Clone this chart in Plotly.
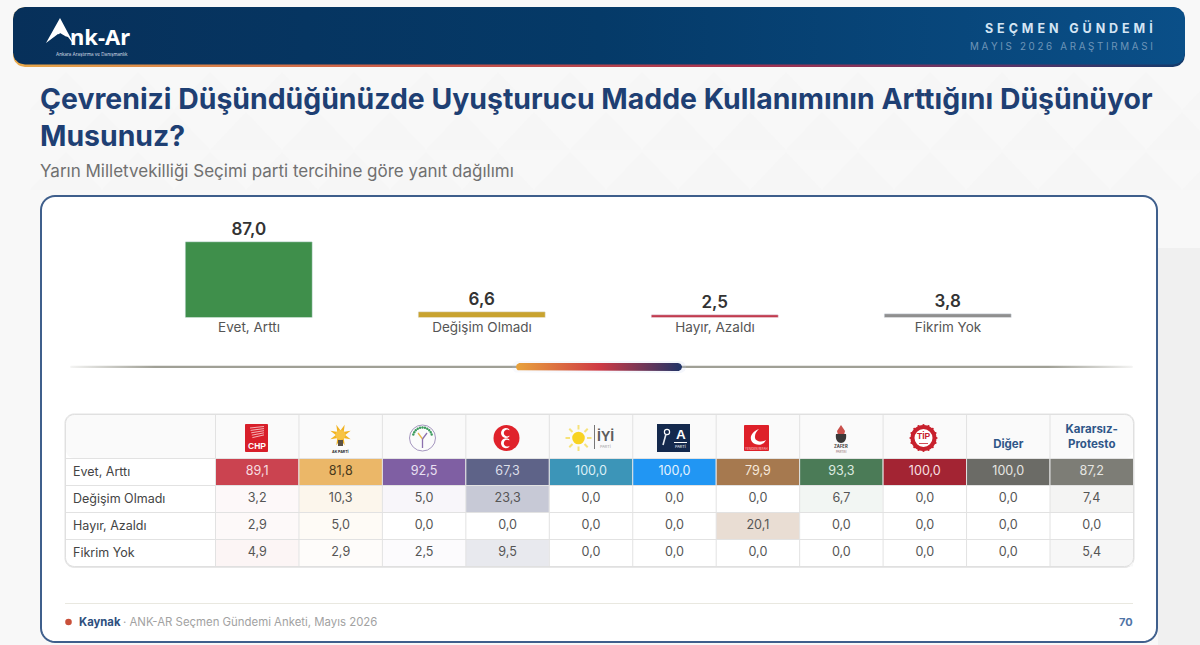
import math
import plotly.graph_objects as go

W, H = 1200, 645

# ---- data ----
summary_labels = ["Evet, Arttı", "Değişim Olmadı", "Hayır, Azaldı", "Fikrim Yok"]
summary_values = [87.0, 6.6, 2.5, 3.8]
summary_colors = ["#3F8F4B", "#C9A32F", "#C23B4E", "#8F8F8F"]

row_labels = ["Evet, Arttı", "Değişim Olmadı", "Hayır, Azaldı", "Fikrim Yok"]
parties = ["CHP", "AK Parti", "DEM", "MHP", "İYİ", "Anahtar", "YRP", "Zafer", "TİP", "Diğer", "Kararsız-Protesto"]
chp = [89.1, 3.2, 2.9, 4.9]
akp = [81.8, 10.3, 5.0, 2.9]
dem = [92.5, 5.0, 0.0, 2.5]
mhp = [67.3, 23.3, 0.0, 9.5]
iyi = [100.0, 0.0, 0.0, 0.0]
anahtar = [100.0, 0.0, 0.0, 0.0]
yrp = [79.9, 0.0, 20.1, 0.0]
zafer = [93.3, 6.7, 0.0, 0.0]
tip = [100.0, 0.0, 0.0, 0.0]
diger = [100.0, 0.0, 0.0, 0.0]
kararsiz = [87.2, 7.4, 0.0, 5.4]
table_columns = [chp, akp, dem, mhp, iyi, anahtar, yrp, zafer, tip, diger, kararsiz]
column_colors = ["#CB4350", "#EBB768", "#7F5FA3", "#5E6388", "#3C95B8", "#2196F3",
                 "#A6794F", "#4B7B57", "#A32433", "#6B6B66", "#7D7D76"]
top_text_colors = ["#F7DDE0", "#4A3A1C", "#E9E0F2", "#DCDEE8", "#DDF0F7", "#E4F3FE",
                   "#F6E9DB", "#DDEBE0", "#F8E0E3", "#E6E6E3", "#E6E6E2"]

FONT = "Inter"
fig = go.Figure()


# ---- helpers for decoration in page pixels ----
def rrect(x0, y0, x1, y1, r):
    xs, ys = [], []
    for cx, cy, a0 in [(x1 - r, y0 + r, -90), (x1 - r, y1 - r, 0), (x0 + r, y1 - r, 90), (x0 + r, y0 + r, 180)]:
        for k in range(9):
            a = math.radians(a0 + k * 90 / 8)
            xs.append(cx + r * math.cos(a))
            ys.append(cy + r * math.sin(a))
    return xs + xs[:1], ys + ys[:1]


def rpath(x0, y0, x1, y1, r):
    xs, ys = rrect(x0, y0, x1, y1, r)
    return "M" + "L".join(f"{a:.2f},{b:.2f}" for a, b in zip(xs, ys)) + "Z"


def grad(x0, y0, x1, y1, r, scale):
    xs, ys = rrect(x0, y0, x1, y1, r)
    fig.add_trace(go.Scatter(x=xs, y=ys, mode="lines", line=dict(width=0), fill="toself",
                             fillgradient=dict(type="horizontal", colorscale=scale, start=x0, stop=x1),
                             hoverinfo="skip", showlegend=False, xaxis="x", yaxis="y"))


shapes = []


def add_shape(**k):
    k.setdefault("xref", "x")
    k.setdefault("yref", "y")
    k.setdefault("layer", "above")
    k.setdefault("line", dict(width=0))
    shapes.append(k)


def rect(x0, y0, x1, y1, fill, r=0, layer="above", line=None):
    add_shape(type="path", path=rpath(x0, y0, x1, y1, r) if r else f"M{x0},{y0}L{x1},{y0}L{x1},{y1}L{x0},{y1}Z",
              fillcolor=fill, layer=layer, line=line or dict(width=0))


def circ(cx, cy, r, fill, line=None, layer="above"):
    add_shape(type="circle", x0=cx - r, x1=cx + r, y0=cy - r, y1=cy + r, fillcolor=fill,
              line=line or dict(width=0), layer=layer)


def seg(x0, y0, x1, y1, color, w=1.0, layer="above"):
    add_shape(type="line", x0=x0, y0=y0, x1=x1, y1=y1, line=dict(color=color, width=w), layer=layer)


def poly(points, fill, layer="above"):
    add_shape(type="path", path="M" + "L".join(f"{a},{b}" for a, b in points) + "Z", fillcolor=fill, layer=layer)


def crescent(cx, cy, r, fill):
    # opening to the right
    pts = []
    for k in range(13):
        a = math.radians(50 + k * 260 / 12)
        pts.append((round(cx + r * math.cos(a), 2), round(cy + r * math.sin(a), 2)))
    for k in range(13):
        a = math.radians(310 - k * 260 / 12)
        pts.append((round(cx + 1.2 + 0.68 * r * math.cos(a), 2), round(cy + 0.68 * r * math.sin(a), 2)))
    poly(pts, fill)


annots = []


def txt(x, y, s, size, color, anchor="center", bold=False, family=FONT):
    annots.append(dict(xref="x", yref="y", x=x, y=y, text=f"<b>{s}</b>" if bold else s, showarrow=False,
                       xanchor=anchor, yanchor="middle", align=anchor, borderpad=0, borderwidth=0,
                       font=dict(family=family, size=size, color=color)))


# ---- page background motif ----
for j, yy in enumerate([72, 112, 152]):
    for i in range(0, 17):
        xx = 30 + i * 72 + (36 if j % 2 else 0)
        poly([(xx, yy + 38), (xx + 36, yy), (xx + 72, yy + 38)], "#F6F6F6", layer="below")
poly([(1158, 248), (1200, 248), (1200, 645), (1158, 645)], "#F0F0F0", layer="below")

# ---- header band ----
grad(13, 7, 1185, 67, 12, [[0, "#E8A84A"], [0.33, "#CC5A48"], [0.62, "#A8324F"], [0.85, "#5A3468"], [1, "#123A6B"]])
grad(13, 7, 1185, 64.5, 12, [[0, "#07305A"], [0.5, "#053A68"], [1, "#0A4F88"]])

# ---- card ----
rect(41, 196, 1157, 642, "#FFFFFF", r=14, layer="below", line=dict(color="#3F5F8C", width=2))
# table frame
rect(65, 415, 1134, 568, "#ECECEC", r=9, layer="below")
rect(65, 414, 1134, 567, "#FFFFFF", r=9, layer="below", line=dict(color="#E2E2E2", width=1))
rect(66, 415, 1133, 458, "#FAFAFA", r=8, layer="below")

# divider
grad(70, 365.8, 1133, 368, 1, [[0, "rgba(150,150,140,0.1)"], [0.08, "#A0A096"], [0.92, "#A0A096"], [1, "rgba(150,150,140,0.1)"]])
grad(512, 361, 686, 373, 6, [[0, "rgba(200,210,240,0.12)"], [1, "rgba(200,210,240,0.2)"]])
grad(516, 363, 682, 371, 4, [[0, "#E8A33D"], [0.5, "#CF3A45"], [1, "#1F3468"]])

# footer
seg(65, 603.5, 1133, 603.5, "#E9E8E0", 1, layer="below")
circ(68.5, 622, 3.3, "#C9503A")
txt(79, 621.5, "Kaynak", 11.3, "#2E4F7E", "left", bold=True)
txt(123, 621.5, "· ANK-AR Seçmen Gündemi Anketi, Mayıs 2026", 11.4, "#A2A2A2", "left")
txt(1133, 621.5, "70", 11, "#4F74A6", "right", bold=True)

# header texts and logo
poly([(60, 18), (46, 43), (58, 34), (68, 37), (75, 46)], "#FFFFFF")
poly([(60, 33), (65, 36), (57, 37)], "#07305A")
txt(70, 35.5, "nk-Ar", 22, "#FFFFFF", "left", bold=True, family="Noto Sans")
txt(92, 54.5, "Ankara Araştırma ve Danışmanlık", 4.6, "#D5DDE6", "center")
txt(1153, 28, "\u2009\u2009".join("SEÇMEN GÜNDEMİ"), 12.5, "#D4E5F4", "right", bold=True)
txt(1153, 46, "\u2009\u200a".join("MAYIS 2026 ARAŞTIRMASI"), 9.8, "#6E95B8", "right")
txt(40, 171, "Yarın Milletvekilliği Seçimi parti tercihine göre yanıt dağılımı", 17, "#707070", "left")

# ---- table grid ----
COL0, COLW, ROWTOP, ROWH, HEADTOP = 215.5, 83.45, 458.5, 27, 414.5
for i in range(len(parties)):
    xx = COL0 + i * COLW
    seg(xx, HEADTOP, xx, ROWTOP + 4 * ROWH, "#E2E2E2", 1)
for j in range(0, 4):
    seg(65.5, ROWTOP + j * ROWH, 1133.5, ROWTOP + j * ROWH, "#E2E2E2", 1)
rect(65.5, 414.5, 1133.5, 566.5, "rgba(0,0,0,0)", r=9, line=dict(color="#E0E0E0", width=1))

# ---- party logos (approximate drawings) ----
# CHP
rect(245, 424, 268, 452, "#D81F2A", r=1)
for k in range(5):
    seg(250 + k * 0.6, 428 + k * 2.4, 264, 426.5 + k * 2.1, "#F8C4C6", 0.9)
txt(256.5, 445.5, "CHP", 8.5, "#FFFFFF", bold=True, family="Liberation Sans")
# AK Parti
for k in range(8):
    a = math.radians(k * 360 / 8 + 22.5)
    poly([(340.5 + 4 * math.cos(a + .5), 435 + 4 * math.sin(a + .5)),
          (340.5 + 11 * math.cos(a), 435 + 11 * math.sin(a)),
          (340.5 + 4 * math.cos(a - .5), 435 + 4 * math.sin(a - .5))], "#F1B21F")
circ(340.5, 435, 5, "#F7C445")
rect(338, 440, 343, 446, "#5B5244")
txt(340.5, 451.5, "<b>AK PARTİ</b>", 3.6, "#222222")
# DEM
circ(422.5, 438, 13, "#FBFBFB", line=dict(color="#A596BF", width=1))
for k in range(11):
    a = math.radians(195 + k * 15)
    circ(422.5 + 9.5 * math.cos(a), 437 + 9.5 * math.sin(a), 1.2, "#3C9B5E")
seg(422.5, 448, 422.5, 439, "#8C70AE", 1.3)
seg(422.5, 439, 418, 433, "#E8B74B", 1.3)
seg(422.5, 439, 427, 433, "#8C70AE", 1.3)
# MHP: red disc with two crescents drawn as shapes
circ(506.5, 438, 13, "#E0222B")
crescent(506, 433, 5, "#FFFFFF")
crescent(506, 443.2, 5, "#FFFFFF")
# IYI
for k in range(8):
    a = math.radians(k * 45)
    seg(578.5 + 8.5 * math.cos(a), 438 + 8.5 * math.sin(a), 578.5 + 13 * math.cos(a), 438 + 13 * math.sin(a), "#F6E27A", 2)
circ(578.5, 438, 6.3, "#F8D322")
seg(594.5, 425, 594.5, 449, "#777777", 1)
txt(605, 435.5, "<b>İYİ</b>", 14, "#5D5D5D", family="Liberation Sans")
txt(605, 446.5, "PARTİ", 3.8, "#9A9A9A")
# Anahtar
rect(657, 424, 690, 452, "#14294D")
circ(667, 432, 2.6, "rgba(0,0,0,0)", line=dict(color="#FFFFFF", width=1.2))
seg(666, 434, 663, 445, "#E6EAF0", 1.6)
txt(680.5, 434.5, "<b>A</b>", 13.5, "#FFFFFF", family="Liberation Sans")
seg(674, 442.5, 687, 442.5, "#FFFFFF", 1)
txt(680.5, 446.5, "PARTİ", 3.8, "#FFFFFF")
# YRP
rect(744, 425, 769, 451, "#DE2029", r=1)
add_shape(type="path", path="M759,429 C750,432 748,441 755,444 C760,446 764,444 766,440 C761,443 754,441 755,436 C755,433 757,431 759,429Z",
          fillcolor="#FFFFFF")
txt(756.5, 448, "YENİDEN REFAH", 2.9, "#F8D5D7")
# Zafer
poly([(841, 425), (845, 431), (844, 435), (838, 435), (837, 431)], "#C9504B")
add_shape(type="path", path="M836,434 L846,434 C847,440 844,443 841,443 C838,443 835,440 836,434Z", fillcolor="#3A3838")
txt(841, 446.8, "<b>ZAFER</b>", 4.2, "#3A3838")
txt(841, 451.8, "PARTİSİ", 2.8, "#8A5A5A")
# TIP
circ(923.5, 438, 11, "#FFFFFF", line=dict(color="#C8212D", width=4))
for k in range(16):
    a = math.radians(k * 22.5)
    circ(923.5 + 13 * math.cos(a), 438 + 13 * math.sin(a), 1.1, "#C8212D")
txt(923.5, 436, "<b>TİP</b>", 8.5, "#C8212D", family="Liberation Sans")
seg(919, 443.5, 928, 443.5, "#C8212D", 0.8)

# ---- summary bars ----
fig.add_trace(go.Bar(x=summary_labels, y=summary_values, width=0.545, marker=dict(color=summary_colors, cornerradius=1),
                     text=[f"{v:.1f}".replace(".", ",") for v in summary_values], textposition="outside",
                     textfont=dict(family=FONT, size=17, color="#333333", weight=600), cliponaxis=False,
                     hoverinfo="skip", showlegend=False, xaxis="x2", yaxis="y2"))

# ---- heat table: one heatmap per party column, white to party colour ----
for i, (col, colr) in enumerate(zip(table_columns, column_colors)):
    fig.add_trace(go.Heatmap(z=[[v] for v in col], x0=i, dx=1, y0=0, dy=1, zmin=0, zmax=max(col),
                             colorscale=[[0, "#FFFFFF"], [1, colr]], showscale=False, hoverinfo="skip",
                             xaxis="x3", yaxis="y3"))
    fig.add_trace(go.Scatter(x=[i] * len(col), y=list(range(len(col))), mode="text",
                             text=[f"{v:.1f}".replace(".", ",") for v in col],
                             textfont=dict(family=FONT, size=12.6, color=[top_text_colors[i]] + ["#555555"] * (len(col) - 1)),
                             hoverinfo="skip", showlegend=False, xaxis="x3", yaxis="y3"))

# ---- layout ----
bar_left, bar_right = 132.5, 1064.5
bar_bottom, bar_top = 317.5, 210
px_per_unit = 75.5 / 87.0
tab_left = 65.5
fig.update_layout(
    width=W, height=H, margin=dict(l=0, r=0, t=0, b=0), autosize=False,
    paper_bgcolor="#F8F8F8", plot_bgcolor="rgba(0,0,0,0)", showlegend=False, bargap=0,
    font=dict(family=FONT),
    title=dict(text="<b>Çevrenizi Düşündüğünüzde Uyuşturucu Madde Kullanımının Arttığını Düşünüyor<br>Musunuz?</b>",
               x=40 / W, xanchor="left", xref="paper", y=1 - 109 / H, yanchor="top", yref="paper",
               font=dict(family=FONT, size=28.4, color="#1E3F73")),
    xaxis=dict(domain=[0, 1], range=[0, W], visible=False, fixedrange=True),
    yaxis=dict(domain=[0, 1], range=[H, 0], visible=False, fixedrange=True),
    xaxis2=dict(domain=[bar_left / W, bar_right / W], range=[-0.5, 3.5], anchor="y2", type="category",
                showgrid=False, showline=False, zeroline=False, ticks="",
                tickfont=dict(family=FONT, size=13.5, color="#555555"), fixedrange=True),
    yaxis2=dict(domain=[1 - bar_bottom / H, 1 - bar_top / H], range=[0, (bar_bottom - bar_top) / px_per_unit],
                anchor="x2", visible=False, fixedrange=True),
    xaxis3=dict(domain=[tab_left / W, (COL0 + 11 * COLW) / W],
                range=[-0.5 - (COL0 - tab_left) / COLW, 10.5], anchor="y3", side="top",
                showgrid=False, zeroline=False, showline=False, ticks="outside", ticklen=5, tickcolor="rgba(0,0,0,0)",
                tickmode="array", tickvals=[9, 10], ticktext=["Diğer", "Kararsız-<br>Protesto"],
                tickfont=dict(family=FONT, size=11.5, color="#2F5688", weight="bold"), fixedrange=True),
    yaxis3=dict(domain=[1 - (ROWTOP + 4 * ROWH) / H, 1 - ROWTOP / H], range=[3.5, -0.5], anchor="x3",
                showgrid=False, zeroline=False, showline=False, ticks="inside", ticklen=7, tickcolor="rgba(0,0,0,0)",
                ticklabelposition="inside", tickmode="array", tickvals=[0, 1, 2, 3], ticktext=row_labels,
                tickfont=dict(family=FONT, size=12.5, color="#444444"), fixedrange=True),
    shapes=shapes, annotations=annots,
)

fig.write_html("out.html", config=dict(displayModeBar=False),
               post_script="document.body.style.margin='0';document.body.style.overflow='hidden';")
